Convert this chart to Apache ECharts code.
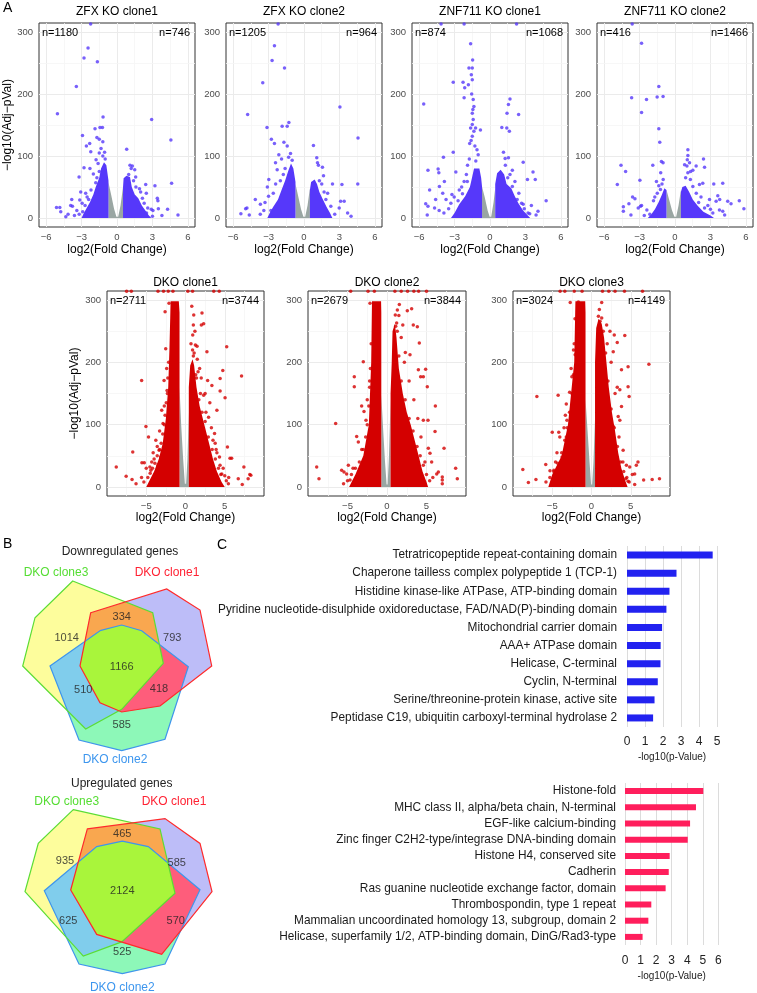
<!DOCTYPE html>
<html><head><meta charset="utf-8">
<script src="https://cdn.jsdelivr.net/npm/echarts@6/dist/echarts.min.js"></script>
<style>html,body{margin:0;padding:0;background:#fff}#c{width:757px;height:993px}</style>
</head><body><div id="c"></div>
<script>
// ---------------- DATA ----------------
const volcanoTitles = ['ZFX KO clone1','ZFX KO clone2','ZNF711 KO clone1','ZNF711 KO clone2','DKO clone1','DKO clone2','DKO clone3'];
const downCounts = [1180,1205,874,416,2711,2679,3024];
const upCounts = [746,964,1068,1466,3744,3844,4149];
const topXTicks = [-6,-3,0,3,6];
const dkoXTicks = [-5,0,5];
const yTicks = [0,100,200,300];

// Panel 1: ZFX KO clone1 (significant points, dense-cloud outlines, grey cloud outline)
const p1Sig = [[-2.23,313],[-2.45,274],[-2.79,258],[-1.66,252],[-3.44,212],[-5.04,168],[-1.18,163],[-1.86,144],[-1.23,146],[-1.44,146],[-2.92,133],[-1.7,130],[-1.5,127],[-1.2,123],[-2.59,116],[-2.31,120],[-2.22,107],[-1.5,105],[-1.2,100],[-1.77,94],[-1.0,95],[-1.6,88],[-2.79,81],[-2.29,80],[-2.0,71],[-1.8,57],[-3.21,66],[-3.07,42],[-2.65,40],[-3.15,29],[-2.53,34],[-5.12,17],[-4.84,17],[-4.76,10],[-4.33,2],[-4.14,6],[-3.77,19],[-3.4,12],[-3.2,6],[-2.9,10],[-2.7,20],[-2.4,30],[-2.2,45],[-1.7,65],[-1.5,75],[-3.6,4],[-2.95,24],[-3.92,20],[-3.83,30],[-1.35,112],[-1.05,106],
[2.93,159],[4.56,126],[0.82,111],[1.1,85],[1.3,84],[1.2,80],[1.5,78],[2.43,54],[3.21,52],[4.62,56],[3.41,32],[3.46,28],[2.9,14],[2.6,16],[3.5,15],[4.28,14],[5.16,5],[3.8,4],[1.9,47],[2.0,42],[2.15,32],[1.8,18],[2.5,8],[3.0,3],[1.4,60],[1.6,50],[2.48,40],[2.3,24],[1.58,66],[0.99,70],[3.04,12]];
const p1Core = [[[-3.0,0],[-2.8,8],[-2.6,15],[-2.3,25],[-2.0,38],[-1.8,50],[-1.5,65],[-1.35,80],[-1.1,90],[-0.9,85],[-0.72,60],[-0.72,0]],
 [[0.51,0],[0.51,50],[0.56,64],[0.8,68],[1.1,66],[1.25,50],[1.5,38],[1.8,32],[2.1,20],[2.4,12],[2.7,4],[2.9,0]]];
const p1Grey = [[-0.73,0],[-0.73,58],[-0.5,38],[-0.25,15],[-0.05,2],[0.1,2],[0.3,20],[0.51,50],[0.51,0]];

// Panel 2: ZFX KO clone2
const p2Sig = [[-2.19,313],[-2.5,278],[-2.7,254],[-1.65,242],[-3.49,218],[-4.77,167],[-3.13,146],[-1.42,148],[-1.28,154],[-1.85,148],[-2.76,127],[-2.5,120],[-1.7,122],[-1.42,116],[-2.98,62],[-3.69,22],[-4.12,30],[-4.83,16],[-4.94,15],[-5.34,7],[-4.63,5],[-2.27,78],[-2.41,89],[-2.13,102],[-1.14,104],[-1.9,95],[-1.6,80],[-2.6,40],[-3.3,25],[-2.8,12],[-1.3,98],[-1.0,93],[-3.1,50],[-3.4,12],[-3.7,6],[-2.4,55],[-2.0,60],[-1.75,70],[-3.0,35],
[3.04,179],[4.57,129],[4.55,55],[0.8,117],[2.41,55],[3.21,54],[1.08,97],[1.14,89],[1.22,85],[1.56,82],[1.65,68],[3.98,3],[3.1,27],[3.4,27],[3.69,8],[2.98,16],[2.27,19],[1.85,30],[1.3,60],[2.0,40],[1.5,55],[2.6,6],[1.7,42]];
const p2Core = [[[-3.1,0],[-2.9,8],[-2.6,18],[-2.2,30],[-1.9,45],[-1.6,60],[-1.35,75],[-1.1,88],[-0.9,80],[-0.72,58],[-0.72,0]],
 [[0.5,0],[0.5,45],[0.6,58],[0.9,62],[1.1,55],[1.3,42],[1.6,30],[1.9,18],[2.2,8],[2.4,0]]];
const p2Grey = [[-0.72,0],[-0.72,55],[-0.5,36],[-0.25,14],[-0.05,2],[0.1,2],[0.3,20],[0.5,48],[0.5,0]];

// Panel 3: ZNF711 KO clone1
const p3Sig = [[-4.14,313],[-2.19,313],[2.25,313],[-1.64,281],[-1.47,255],[-1.78,242],[-1.5,242],[-1.58,231],[-1.5,223],[-2.28,219],[-1.83,215],[-2.14,210],[-3.11,219],[-2.19,194],[-5.61,184],[-1.42,191],[-1.36,180],[-1.5,169],[-1.42,159],[-1.5,151],[-1.64,145],[-1.22,145],[-1.36,140],[-0.81,142],[-1.72,120],[-1.28,116],[-1.5,132],[-3.11,106],[-3.94,98],[-5.25,77],[-4.39,79],[-4.33,73],[-3.86,59],[-5.11,45],[-4.28,51],[-2.89,74],[-2.19,59],[-1.92,59],[-5.44,23],[-5.25,19],[-4.69,16],[-5.31,5],[-3.22,38],[-3.31,24],[-3.03,34],[-2.33,39],[-3.72,30],[-1.55,200],[-1.45,175],[-1.6,125],[-1.1,110],[-1.0,102],[-4.6,30],[-4.0,40],[-1.75,95],[-1.9,85],[-2.4,50],[-2.7,28],[-3.5,15],[-3.9,8],[-4.3,12],[-2.0,70],[-1.2,92],[-2.6,45],
[1.69,192],[1.56,183],[1.44,169],[2.42,167],[1.0,146],[1.42,145],[1.64,140],[1.14,106],[1.28,96],[2.81,90],[1.89,77],[1.69,70],[3.64,74],[3.17,62],[3.83,62],[4.75,28],[4.06,11],[3.36,7],[3.22,8],[2.67,24],[2.81,22],[2.44,40],[2.11,59],[1.89,51],[1.56,97],[1.3,85],[1.5,65],[2.3,30],[2.9,15],[3.5,20],[3.9,5]];
const p3Core = [[[-3.3,0],[-3.0,8],[-2.6,22],[-2.1,35],[-1.7,50],[-1.5,67],[-1.35,80],[-0.9,80],[-0.75,65],[-0.67,50],[-0.67,0]],
 [[0.44,0],[0.44,55],[0.6,72],[0.9,78],[1.2,70],[1.4,55],[1.8,48],[2.1,35],[2.4,24],[2.8,12],[3.2,4],[3.4,0]]];
const p3Grey = [[-0.67,0],[-0.67,50],[-0.45,34],[-0.2,12],[-0.03,2],[0.1,2],[0.3,25],[0.44,48],[0.44,0]];

// Panel 4: ZNF711 KO clone2
const p4Sig = [[-3.62,313],[-2.83,282],[-1.37,212],[-3.67,194],[-2.41,191],[-1.51,195],[-1.01,196],[-2.83,170],[-1.37,144],[-1.29,122],[-4.57,85],[-4.18,75],[-1.88,85],[-1.15,91],[-1.01,89],[-2.97,61],[-4.88,54],[-1.21,73],[-1.57,59],[-1.37,52],[-1.23,46],[-3.59,34],[-3.39,31],[-3.9,23],[-4.37,18],[-4.37,11],[-3.11,16],[-2.92,19],[-2.83,20],[-3.73,5],[-2.38,13],[-2.13,6],[-1.82,28],[-1.71,34],[-2.6,4],[-1.5,40],[-1.1,55],[-1.0,62],
[1.09,110],[1.09,101],[1.04,94],[0.81,86],[1.01,84],[1.23,89],[1.79,84],[2.41,95],[2.5,82],[1.32,75],[1.51,77],[1.09,73],[2.07,54],[2.35,56],[1.51,51],[3.28,55],[4.04,56],[3.62,36],[3.78,30],[3.48,27],[2.92,30],[4.46,27],[4.74,23],[5.44,28],[5.83,15],[4.04,11],[3.76,13],[3.2,8],[2.78,20],[2.5,16],[1.8,40],[2.2,34],[1.3,62],[0.9,65],[2.0,25],[3.0,14],[4.2,5]];
const p4Core = [[[-2.3,0],[-2.0,6],[-1.7,14],[-1.4,25],[-1.1,38],[-0.9,48],[-0.72,45],[-0.72,0]],
 [[0.5,0],[0.5,42],[0.62,50],[0.9,52],[1.2,42],[1.5,30],[1.9,20],[2.4,10],[3.0,4],[3.3,0]]];
const p4Grey = [[-0.72,0],[-0.72,45],[-0.5,30],[-0.25,12],[-0.05,2],[0.1,2],[0.3,20],[0.5,45],[0.5,0]];

// Panel 5: DKO clone1
const p5Sig = [[-8.82,32],[-7.56,17],[-6.72,56],[-6.81,12],[-6.3,5],[-5.55,39],[-5.25,39],[-5.04,97],[-4.71,80],[-5.59,171],[-4.12,55],[-4.54,32],[-4.41,27],[-3.78,75],[-3.36,59],[-3.15,48],[-3.78,16],[-2.6,281],[-2.1,295],[-2.52,222],[-2.73,171],[-3.03,123],[-2.86,102],[-7.5,314],[-6.9,314],[-3.5,314],[-2.8,314],[-2.2,314],[-1.6,314],[-2.4,190],[-2.3,150],[-2.7,130],[-3.3,90],[-3.6,65],[-4.3,40],
[-4.8,15],[-4.5,22],[-4.2,30],[-3.9,38],[-3.6,50],[-3.3,60],[-3.1,70],[-2.9,85],[-2.7,100],[-2.6,115],[-2.45,135],[-2.35,155],[-2.25,175],[-2.15,200],[-5.3,8],[-5.6,15],[-5.0,30],[-4.0,45],[-3.5,35],
[1.05,276],[2.1,279],[2.31,262],[2.02,260],[0.92,244],[5.25,225],[2.73,217],[1.26,228],[1.47,226],[4.75,187],[7.14,178],[2.82,171],[4.41,174],[4.41,154],[5.04,143],[4.0,123],[3.36,163],[2.31,147],[5.34,64],[5.67,46],[5.88,46],[7.44,32],[8.19,20],[8.32,19],[7.98,13],[7.23,4],[6.72,13],[5.46,5],[4.62,21],[4.33,48],[3.7,86],[3.78,70],[2.94,112],[1.0,260],[1.2,250],[0.9,220],[1.5,205],[1.8,190],[1.1,215],[2.0,175],[1.6,185],[2.5,150],[3.1,135],[0.8,290],[0.3,314],[0.9,314],[3.6,314],[4.3,314],[2.6,120],[3.3,95],[3.9,60],[4.4,35],[5.0,18],[1.9,150],[1.4,175],
[4.2,30],[4.5,20],[3.8,45],[3.4,60],[2.9,80],[2.5,105],[2.1,120],[1.7,140],[5.2,10],[5.5,15],[4.8,30],[4.0,55],[3.5,75],[1.3,180],[1.0,210],[0.7,230]];
const p5Core = [[[-5.0,0],[-4.6,10],[-4.0,25],[-3.4,45],[-2.9,70],[-2.5,110],[-2.2,160],[-2.05,220],[-1.95,270],[-1.9,298],[-0.85,298],[-0.76,280],[-0.76,0]],
 [[0.42,0],[0.42,160],[0.6,195],[0.9,205],[1.1,195],[1.4,160],[1.8,130],[2.4,100],[3.0,70],[3.5,45],[4.0,25],[4.6,8],[5.0,0]]];
const p5Grey = [[-0.76,0],[-0.76,160],[-0.55,100],[-0.3,45],[-0.08,5],[0.08,5],[0.25,45],[0.42,120],[0.42,0]];

// Panel 6: DKO clone2
const p6Sig = [[-8.9,32],[-8.61,13],[-6.5,102],[-5.74,27],[-5.44,24],[-5.11,21],[-4.89,35],[-4.14,177],[-4.14,161],[-3.21,130],[-3.0,201],[-2.91,121],[-2.66,107],[-3.84,81],[-3.63,72],[-4.68,11],[-4.18,8],[-3.84,16],[-2.15,295],[-4.6,314],[-2.4,314],[-1.6,314],[-2.2,170],[-2.5,140],[-3.2,60],[-4.3,30],
[-5.0,10],[-4.5,20],[-4.0,30],[-3.5,40],[-3.0,60],[-2.7,80],[-2.5,100],[-2.3,130],[-2.2,160],[-2.1,190],[-2.0,230],[-5.5,5],
[1.56,293],[1.31,284],[2.57,283],[3.12,286],[1.05,276],[1.1,258],[1.22,263],[3.33,260],[3.84,257],[4.09,231],[2.32,216],[2.91,212],[4.89,189],[3.97,188],[4.26,177],[4.6,177],[5.1,161],[6.12,130],[5.19,107],[4.6,107],[6.08,89],[7.22,62],[5.23,62],[5.44,54],[6.5,24],[6.29,21],[7.0,16],[7.0,11],[7.0,5],[8.69,30],[8.9,13],[5.65,40],[1.0,314],[1.8,314],[2.6,314],[3.4,314],[4.0,314],[5.0,314],[1.8,240],[2.2,200],[2.8,170],[3.4,140],[3.9,110],[4.3,80],[4.8,40],[1.5,275],[2.0,260],
[5.4,10],[5.0,20],[4.6,35],[4.2,50],[3.8,65],[3.3,90],[2.8,110],[2.3,140],[1.8,170],[1.5,210],[1.3,250],[5.8,15]];
const p6Core = [[[-4.8,0],[-4.0,20],[-3.0,50],[-2.3,100],[-2.0,200],[-1.9,298],[-0.75,298],[-0.72,280],[-0.72,0]],
 [[0.45,0],[0.45,150],[0.6,200],[0.7,250],[1.0,262],[1.2,240],[1.5,190],[2.0,150],[2.5,120],[3.0,100],[3.6,70],[4.0,50],[4.5,25],[5.0,8],[5.2,0]]];
const p6Grey = [[-0.72,0],[-0.72,148],[-0.5,95],[-0.25,40],[-0.05,4],[0.08,4],[0.25,50],[0.45,140],[0.45,0]];

// Panel 7: DKO clone3
const p7Sig = [[-8.75,28],[-8.04,7],[-7.08,12],[-6.96,145],[-5.83,36],[-5.0,88],[-4.25,147],[-4.17,88],[-4.04,80],[-3.21,133],[-3.33,115],[-3.13,107],[-2.79,152],[-5.29,26],[-4.79,27],[-4.58,40],[-3.75,48],[-3.21,80],[-2.92,70],[-2.71,296],[-1.67,297],[-2.29,220],[-2.08,212],[-2.5,177],[-4.0,314],[-3.4,314],[-2.2,314],[-1.2,314],[-2.6,190],[-3.5,95],[-4.4,55],
[-5.8,8],[-5.3,15],[-4.8,25],[-4.3,38],[-3.8,55],[-3.4,75],[-3.1,95],[-2.8,120],[-2.5,150],[-2.3,180],[-2.2,230],[-2.1,270],
[1.3,296],[0.88,274],[1.3,271],[1.09,266],[1.93,260],[2.35,250],[2.9,244],[3.28,232],[4.24,243],[2.77,217],[3.82,188],[4.66,193],[7.31,197],[3.28,160],[3.61,156],[4.66,161],[4.79,145],[3.82,129],[3.4,113],[3.61,107],[2.77,97],[5.92,40],[5.71,35],[5.5,21],[6.64,11],[7.73,12],[8.66,13],[5.5,4],[4.37,13],[4.66,9],[4.45,35],[4.87,32],[4.03,59],[1.4,314],[2.2,314],[3.0,314],[4.2,314],[6.5,314],[2.5,200],[3.0,150],[3.5,80],[4.0,40],[2.0,230],
[4.8,8],[4.5,15],[4.1,25],[3.7,40],[3.3,65],[2.9,95],[2.5,125],[2.1,170],[1.8,215],[1.5,250],[1.0,285],[5.2,20]];
const p7Core = [[[-5.5,0],[-5.0,20],[-3.8,50],[-3.0,100],[-2.2,200],[-2.05,298],[-0.8,298],[-0.76,280],[-0.76,0]],
 [[0.45,0],[0.45,200],[0.6,255],[0.9,270],[1.3,262],[1.6,240],[1.9,200],[2.2,160],[2.6,120],[3.0,90],[3.4,55],[3.8,30],[4.3,10],[4.6,0]]];
const p7Grey = [[-0.76,0],[-0.76,140],[-0.5,90],[-0.25,40],[-0.05,4],[0.08,4],[0.25,40],[0.45,110],[0.45,0]];

// Venn counts: [clone3 only, clone1 only, clone2 only, 3∩1, 3∩2, 1∩2, all]
const vennSets = ['DKO clone3','DKO clone1','DKO clone2'];
const vennDownCounts = [1014,793,585,334,510,418,1166];
const vennUpCounts = [935,585,525,465,625,570,2124];

// Domain enrichment
const domDownLabels = ['Tetratricopeptide repeat-containing domain','Chaperone tailless complex polypeptide 1 (TCP-1)','Histidine kinase-like ATPase, ATP-binding domain','Pyridine nucleotide-disulphide oxidoreductase, FAD/NAD(P)-binding domain','Mitochondrial carrier domain','AAA+ ATPase domain','Helicase, C-terminal','Cyclin, N-terminal','Serine/threonine-protein kinase, active site','Peptidase C19, ubiquitin carboxyl-terminal hydrolase 2'];
const domDownValues = [4.76,2.75,2.36,2.19,1.95,1.87,1.86,1.71,1.53,1.45];
const domUpLabels = ['Histone-fold','MHC class II, alpha/beta chain, N-terminal','EGF-like calcium-binding','Zinc finger C2H2-type/integrase DNA-binding domain','Histone H4, conserved site','Cadherin','Ras guanine nucleotide exchange factor, domain','Thrombospondin, type 1 repeat','Mammalian uncoordinated homology 13, subgroup, domain 2','Helicase, superfamily 1/2, ATP-binding domain, DinG/Rad3-type'];
const domUpValues = [5.03,4.56,4.18,4.03,2.87,2.81,2.61,1.69,1.50,1.13];

// ---------------- LAYOUT / STYLE ----------------
const FONT = '"Liberation Sans", Arial, sans-serif';
const panels = [
  {sig:p1Sig, core:p1Core, grey:p1Grey},{sig:p2Sig, core:p2Core, grey:p2Grey},
  {sig:p3Sig, core:p3Core, grey:p3Grey},{sig:p4Sig, core:p4Core, grey:p4Grey},
  {sig:p5Sig, core:p5Core, grey:p5Grey},{sig:p6Sig, core:p6Core, grey:p6Grey},
  {sig:p7Sig, core:p7Core, grey:p7Grey}];
const vPos = [[39,23,156,204],[226,23,156,204],[412,23,156,204],[597,23,156,204],
              [107,291,157,205],[308,291,158,205],[513,291,157,205]];
const topMinor = [-4.5,-1.5,1.5,4.5], dkoMinor = [-7.5,-2.5,2.5,7.5], yMinor = [50,150,250];
const fmtMinus = v => (v < 0 ? '\u2212' + Math.abs(v) : String(v));

const grids = [], xAxes = [], yAxes = [], series = [], graphics = [];

function polySeries(gi, polys, color, z) {
  return {type:'custom', xAxisIndex:gi, yAxisIndex:gi, z:z, silent:true, animation:false,
    data: polys.map((p,k)=>[p[0][0],p[0][1],k]),
    renderItem:(params, api)=>{
      const poly = polys[params.dataIndex];
      return {type:'polygon', shape:{points: poly.map(p=>api.coord(p))},
        style: color.stroke ? {fill:color.fill||'none', stroke:color.stroke, lineWidth:color.lw||1} : {fill:color.fill}};
    }};
}

panels.forEach((pn, i) => {
  const isTop = i < 4;
  const [l,t,w,h] = vPos[i];
  const gi = grids.length;
  grids.push({left:l, top:t, width:w, height:h, show:true, borderColor:'#333333', borderWidth:1, backgroundColor:'#fff'});
  const xt = isTop ? topXTicks : dkoXTicks, xm = isTop ? topMinor : dkoMinor, xr = isTop ? 6.6 : 10;
  xAxes.push({gridIndex:gi, type:'value', min:-xr, max:xr,
    axisLine:{show:false}, splitLine:{show:false},
    axisTick:{show:true, customValues:xt, length:3, lineStyle:{color:'#333'}},
    axisLabel:{customValues:xt, formatter:fmtMinus, color:'#4d4d4d', fontSize:9.5, margin:5, fontFamily:FONT},
    name:'log2(Fold Change)', nameLocation:'middle', nameGap:isTop?17:16,
    nameTextStyle:{color:'#000', fontSize:12, fontFamily:FONT}});
  const showName = (i === 0 || i === 4);
  yAxes.push({gridIndex:gi, type:'value', min:-14.5, max:314.5,
    axisLine:{show:false}, splitLine:{show:false},
    axisTick:{show:true, customValues:yTicks, length:3, lineStyle:{color:'#333'}},
    axisLabel:{customValues:yTicks, color:'#4d4d4d', fontSize:9.5, margin:6, fontFamily:FONT},
    name: showName ? '\u2212log10(Adj\u2212pVal)' : '', nameLocation:'middle', nameGap:isTop?25:26, nameRotate:90,
    nameTextStyle:{color:'#000', fontSize:12, fontFamily:FONT}});
  const ml = [];
  xt.forEach(v=>ml.push({xAxis:v, lineStyle:{color:'#EBEBEB', width:1, type:'solid'}}));
  xm.forEach(v=>ml.push({xAxis:v, lineStyle:{color:'#F5F5F5', width:0.8, type:'solid'}}));
  yTicks.forEach(v=>ml.push({yAxis:v, lineStyle:{color:'#EBEBEB', width:1, type:'solid'}}));
  yMinor.forEach(v=>ml.push({yAxis:v, lineStyle:{color:'#F5F5F5', width:0.8, type:'solid'}}));
  series.push({type:'scatter', xAxisIndex:gi, yAxisIndex:gi, data:[], z:1, silent:true,
    markLine:{silent:true, z:1, symbol:['none','none'], label:{show:false}, animation:false, data:ml}});
  const sigCol = isTop ? '#5638FA' : '#D40000';
  series.push(polySeries(gi, [pn.grey], {fill:'#9AA6A3'}, 2));
  series.push(polySeries(gi, pn.core, {fill:sigCol}, 3));
  series.push({type:'scatter', xAxisIndex:gi, yAxisIndex:gi, z:4, silent:true, clip:true,
    symbolSize:3.5, itemStyle:{color:sigCol}, data:pn.sig});
  graphics.push({type:'text', x:l + w/2, y:isTop ? 12 : 283, style:{text:volcanoTitles[i], fill:'#000', font:'12px '+FONT, align:'center', verticalAlign:'middle'}});
  const ny = isTop ? 32.5 : 300.5;
  graphics.push({type:'text', x:l + 3, y:ny, z:10, style:{text:'n=' + downCounts[i], fill:'#000', font:'11px '+FONT, align:'left', verticalAlign:'middle'}});
  graphics.push({type:'text', x:l + w - 5, y:ny, z:10, style:{text:'n=' + upCounts[i], fill:'#000', font:'11px '+FONT, align:'right', verticalAlign:'middle'}});
});

// ---------- Bar charts ----------
function addBars(labels, values, color, pos, xmax, barW, labMargin, tickMargin, nameGap) {
  const gi = grids.length;
  grids.push({left:pos[0], top:pos[1], width:pos[2], height:pos[3]});
  xAxes.push({gridIndex:gi, type:'value', min:0, max:xmax, interval:1,
    axisLine:{show:false}, axisTick:{show:false},
    splitLine:{show:true, lineStyle:{color:'#DCDCDC', width:1}},
    axisLabel:{color:'#222', fontSize:12, margin:tickMargin, fontFamily:FONT},
    name:'-log10(p-Value)', nameLocation:'middle', nameGap:nameGap,
    nameTextStyle:{color:'#222', fontSize:10, fontFamily:FONT}});
  yAxes.push({gridIndex:gi, type:'category', data:labels, inverse:true,
    axisLine:{show:false}, axisTick:{show:false}, splitLine:{show:false},
    axisLabel:{color:'#1a1a1a', fontSize:11.85, margin:labMargin, fontFamily:FONT}});
  series.push({type:'bar', xAxisIndex:gi, yAxisIndex:gi, data:values, barWidth:barW, z:3,
    itemStyle:{color:color}, silent:true});
}
addBars(domDownLabels, domDownValues, '#2222F0', [627,546,90,181], 5, 7, 10, 9, 25);
addBars(domUpLabels, domUpValues, '#FF1E5C', [625,783,93.4,162], 6, 6, 9, 10, 26);

// ---------- Venn diagrams ----------
function signedArea(p){let s=0;for(let i=0;i<p.length;i++){const a=p[i],b=p[(i+1)%p.length];s+=a[0]*b[1]-b[0]*a[1];}return s/2;}
function inter(p,q,a,b){const x1=p[0],y1=p[1],x2=q[0],y2=q[1],x3=a[0],y3=a[1],x4=b[0],y4=b[1];
  const d=(x1-x2)*(y3-y4)-(y1-y2)*(x3-x4); const t=((x1-x3)*(y3-y4)-(y1-y3)*(x3-x4))/d;
  return [x1+t*(x2-x1), y1+t*(y2-y1)];}
function clipPoly(subject, clip){
  let out = subject.slice(); const o = signedArea(clip) > 0 ? 1 : -1;
  for (let i=0;i<clip.length;i++){
    const a=clip[i], b=clip[(i+1)%clip.length]; const inp=out; out=[]; if(!inp.length) break;
    const ins = p => o*((b[0]-a[0])*(p[1]-a[1])-(b[1]-a[1])*(p[0]-a[0])) >= 0;
    for (let j=0;j<inp.length;j++){
      const cur=inp[j], prev=inp[(j+inp.length-1)%inp.length]; const ci=ins(cur), pi=ins(prev);
      if(ci){ if(!pi) out.push(inter(prev,cur,a,b)); out.push(cur);} else if(pi) out.push(inter(prev,cur,a,b));
    }
  }
  return out;
}
// shape geometry (layout, in local px units of each venn box)
const vennDownShapes = {
  g:[[72.7,21],[152.7,52.7],[163.3,103.3],[121.7,149.3],[85.7,169],[22.7,106],[35,57.7]],
  r:[[90.7,52.7],[166.7,29],[200,50],[211.7,106],[160,146],[121.7,152],[100,142.7],[80,106]],
  b:[[100,70.7],[121.7,65],[141.7,70.7],[188.3,106.7],[165,179.3],[121.7,190.7],[79,180],[50,106]]};
const vennUpShapes = {
  g:[[73.3,10],[160,30],[175,96.7],[121.7,147],[83.3,161.7],[25,95],[38.3,45]],
  r:[[87.3,30],[165,19.3],[200,45],[212,95],[161.7,160],[96.7,139.3],[70.7,93.3]],
  b:[[96.7,48.3],[122.3,42.7],[148.3,48.3],[200,93],[165,170],[122.3,180],[79,170],[44.3,94]]};
const vennDownLabelPos = [[66.7,77.7],[172.3,78.3],[121.7,165],[121.7,57],[83.3,130],[159,129],[121.7,106.7]];
const vennUpLabelPos = [[65,63.3],[176.7,65],[122.3,157.3],[122.3,35.7],[68.3,125.7],[175.7,125.7],[122.3,94.3]];

function addVenn(shapes, counts, labelPos, top) {
  const gi = grids.length;
  grids.push({left:0, top:top, width:220, height:200});
  xAxes.push({gridIndex:gi, type:'value', min:0, max:220, show:false});
  yAxes.push({gridIndex:gi, type:'value', min:0, max:200, inverse:true, show:false});
  const G=shapes.g, R=shapes.r, B=shapes.b;
  const GR=clipPoly(G,R), GB=clipPoly(G,B), RB=clipPoly(R,B), GRB=clipPoly(GR,B);
  const fills = [[G,'#FDFD9C'],[R,'#BDBDF8'],[B,'#8DF8B8'],[GR,'#F9A74F'],[GB,'#80CDEC'],[RB,'#FE5D7B'],[GRB,'#A9F53B']];
  fills.forEach((f,k)=>series.push(polySeries(gi,[f[0]],{fill:f[1]},2+k*0.01)));
  series.push(polySeries(gi,[B],{stroke:'#3F95EC', lw:1.2},3));
  series.push(polySeries(gi,[G],{stroke:'#5BDD34', lw:1.2},3));
  series.push(polySeries(gi,[R],{stroke:'#FF2A2A', lw:1.2},3));
  series.push({type:'scatter', xAxisIndex:gi, yAxisIndex:gi, z:5, silent:true, symbolSize:0,
    data: counts.map((c,k)=>[labelPos[k][0], labelPos[k][1], c]),
    label:{show:true, position:'inside', formatter:p=>String(p.value[2]), color:'#222', fontSize:11, fontFamily:FONT}});
}
addVenn(vennDownShapes, vennDownCounts, vennDownLabelPos, 560);
addVenn(vennUpShapes, vennUpCounts, vennUpLabelPos, 800);

function txt(x,y,s,size,color,align){graphics.push({type:'text', x:x, y:y, style:{text:s, fill:color, font:size+'px '+FONT, align:align||'center', verticalAlign:'middle'}});}
txt(120,552,'Downregulated genes',12,'#222');
txt(56,573,vennSets[0],12,'#55DD33');
txt(167,573,vennSets[1],12,'#FF2233');
txt(115,760,vennSets[2],12,'#3D96EE');
txt(121.7,784,'Upregulated genes',12,'#222');
txt(66.7,802,vennSets[0],12,'#55DD33');
txt(174,802,vennSets[1],12,'#FF2233');
txt(122.3,988,vennSets[2],12,'#3D96EE');
txt(3,8,'A',14,'#000','left');
txt(3,544,'B',14,'#000','left');
txt(217,545,'C',14,'#000','left');

const chart = echarts.init(document.getElementById('c'), null, {renderer:'canvas'});
chart.setOption({animation:false, backgroundColor:'#fff', grid:grids, xAxis:xAxes, yAxis:yAxes, series:series, graphic:graphics});
</script></body></html>
